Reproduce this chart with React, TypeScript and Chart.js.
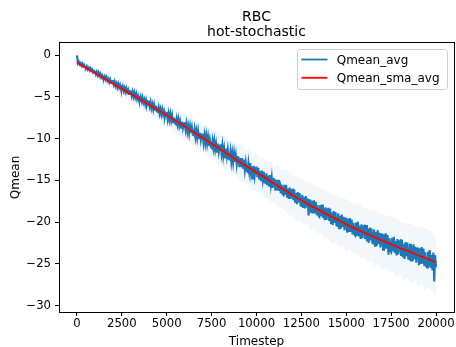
import React, { useEffect, useRef } from "react";
import { Chart, registerables } from "chart.js";

Chart.register(...registerables);

const TITLE = "RBC";
const SUBTITLE = "hot-stochastic";
const X_LABEL = "Timestep";
const Y_LABEL = "Qmean";

const xTicks = [0, 2500, 5000, 7500, 10000, 12500, 15000, 17500, 20000];
const yTicks = [0, -5, -10, -15, -20, -25, -30];

// Qmean_avg logged every 50 timesteps
const MEAN_INTERVAL = 50;
const qmeanAvg = [
  -0.05, -0.97, -0.78, -1.12, -0.96, -1.26, -1.04, -1.33, -1.17, -1.48,
  -1.55, -1.35, -1.7, -1.51, -1.81, -1.59, -1.89, -1.74, -2.06, -1.88,
  -1.91, -2.31, -2.02, -2.4, -2.1, -2.5, -2.25, -2.67, -2.43, -2.77,
  -2.86, -2.58, -2.94, -2.66, -3.09, -2.87, -3.25, -2.93, -3.34, -3.1,
  -3.1, -3.54, -3.18, -3.71, -3.4, -3.86, -3.45, -3.89, -3.58, -4.06,
  -4.13, -3.76, -4.3, -3.94, -4.4, -3.99, -4.45, -4.16, -4.65, -4.31,
  -4.34, -4.91, -4.44, -4.98, -4.5, -5.07, -4.66, -5.26, -4.87, -5.35,
  -5.45, -5.0, -5.52, -5.08, -5.69, -5.33, -5.88, -5.38, -5.96, -5.57,
  -5.57, -6.16, -5.63, -6.37, -5.91, -6.54, -5.94, -6.53, -6.07, -6.73,
  -6.8, -6.27, -7.01, -6.48, -7.11, -6.51, -7.14, -6.72, -7.38, -6.89,
  -6.91, -7.69, -7.0, -7.74, -7.05, -7.83, -7.23, -8.05, -7.49, -8.14,
  -8.25, -7.61, -8.3, -7.66, -8.48, -7.96, -8.7, -7.97, -8.75, -8.19,
  -8.17, -8.95, -8.21, -9.18, -8.53, -9.37, -8.52, -9.31, -8.66, -9.54,
  -9.61, -8.86, -9.84, -9.09, -9.93, -9.08, -9.92, -9.31, -10.2, -9.5,
  -9.52, -10.51, -9.61, -10.54, -9.64, -10.63, -9.83, -10.88, -10.14, -10.96,
  -11.09, -10.24, -11.12, -10.27, -11.31, -10.63, -11.56, -10.6, -11.59, -10.85,
  -10.82, -11.79, -10.84, -12.05, -11.22, -12.25, -11.18, -12.15, -11.32, -12.41,
  -12.48, -11.53, -12.74, -11.79, -12.82, -11.75, -12.78, -12.01, -13.1, -12.21,
  -12.25, -13.42, -12.32, -13.42, -12.32, -13.49, -12.52, -13.76, -12.85, -13.83,
  -13.96, -12.92, -13.97, -12.93, -14.17, -13.32, -14.9, -13.26, -14.44, -13.53,
  -13.49, -14.61, -13.49, -14.88, -13.9, -15.09, -13.83, -14.94, -13.96, -15.22,
  -15.29, -14.16, -15.56, -14.44, -15.63, -14.36, -15.55, -14.64, -15.9, -14.84,
  -14.88, -16.22, -14.94, -16.2, -14.92, -16.26, -15.13, -16.55, -15.49, -16.61,
  -16.75, -15.54, -16.74, -15.53, -16.95, -15.96, -17.23, -15.87, -17.22, -16.16,
  -16.11, -17.37, -16.08, -17.66, -16.52, -17.86, -16.41, -17.67, -16.53, -17.95,
  -18.02, -16.72, -18.3, -17.0, -18.35, -16.89, -18.23, -17.17, -19.2, -17.38,
  -17.41, -18.91, -17.44, -18.85, -17.38, -18.88, -17.58, -19.17, -17.95, -19.2,
  -19.34, -17.95, -19.29, -17.9, -19.49, -18.35, -19.77, -18.21, -19.72, -18.5,
  -18.43, -19.84, -18.36, -20.13, -18.83, -20.33, -18.67, -20.08, -18.78, -20.37,
  -20.42, -18.95, -20.71, -19.24, -20.73, -19.08, -20.57, -19.37, -20.95, -19.57,
  -19.59, -21.25, -19.59, -21.16, -19.5, -21.17, -19.7, -21.46, -20.08, -21.46,
  -21.61, -20.04, -21.52, -19.95, -21.71, -20.43, -22.0, -20.25, -21.91, -20.54,
  -20.45, -22.0, -20.35, -22.29, -20.84, -22.49, -20.64, -22.18, -20.73, -22.48,
  -22.53, -20.87, -22.82, -21.17, -22.82, -20.96, -22.61, -21.26, -23.01, -21.45,
  -21.47, -23.3, -21.45, -23.18, -21.33, -23.16, -21.53, -23.9, -21.93, -23.45,
  -23.6, -21.86, -23.48, -21.74, -23.67, -22.25, -23.97, -22.02, -23.85, -22.32,
  -22.22, -23.91, -22.09, -24.22, -22.61, -24.41, -22.37, -24.06, -22.45, -24.36,
  -24.41, -22.58, -24.71, -22.88, -24.69, -22.64, -24.44, -22.94, -24.86, -23.14,
  -23.15, -25.14, -23.12, -25.0, -22.97, -24.97, -23.17, -25.28, -23.6, -25.25,
  -25.41, -23.5, -25.27, -23.35, -25.47, -23.9, -25.78, -23.64, -27.1, -23.95,
  -25.4,
];

// spread (std) of Qmean logged every 200 timesteps
const STD_INTERVAL = 200;
const qmeanStd = [
  0.1, 0.35, 0.4, 0.45, 0.4, 0.5, 0.55, 0.5, 0.6, 0.65,
  0.7, 0.6, 0.8, 0.75, 0.9, 0.8, 0.95, 0.85, 1.0, 1.1,
  0.95, 1.2, 1.05, 1.3, 1.15, 1.4, 1.2, 1.5, 1.3, 1.45,
  1.6, 1.35, 1.7, 1.5, 1.8, 1.55, 1.9, 1.6, 1.75, 2.0,
  1.7, 2.05, 1.8, 2.2, 1.85, 2.1, 2.3, 1.9, 2.25, 2.0,
  2.35, 2.05, 2.4, 2.15, 2.5, 2.2, 2.6, 2.3, 2.45, 2.7,
  2.35, 2.75, 2.5, 2.8, 2.45, 2.9, 2.6, 2.85, 2.55, 3.0,
  2.7, 3.05, 2.75, 3.1, 2.85, 3.2, 2.8, 3.1, 2.95, 3.3,
  2.9, 3.25, 3.0, 3.35, 3.05, 3.4, 3.1, 3.3, 3.2, 3.5,
  3.15, 3.45, 3.25, 3.6, 3.3, 3.5, 3.4, 3.7, 3.35, 3.6,
  3.4,
];

// Qmean_sma_avg logged every 500 timesteps
const SMA_INTERVAL = 500;
const qmeanSmaAvg = [
  -0.9, -1.52, -2.16, -2.77, -3.41, -4.02, -4.66, -5.27, -5.91, -6.55,
  -7.21, -7.86, -8.56, -9.21, -9.91, -10.59, -11.31, -11.99, -12.71, -13.36,
  -14.06, -14.71, -15.41, -16.06, -16.76, -17.37, -18.01, -18.56, -19.16, -19.69,
  -20.26, -20.74, -21.26, -21.71, -22.21, -22.64, -23.11, -23.51, -23.96, -24.36,
  -24.8,
];

const X_MIN = -1000;
const X_MAX = 21000;
const Y_MIN = -30.75;
const Y_MAX = 1.44;

const BLUE = "#1f77b4";
const RED = "#ff0000";
const BAND = "rgba(31,119,180,0.06)";
const FONT = "'DejaVu Sans', 'Liberation Sans', sans-serif";

const fmt = (v: number) => (v < 0 ? "\u2212" + Math.abs(v) : String(v));

const decorPlugin = {
  id: "decor",
  afterDatasetsDraw(chart: any) {
    const { ctx, chartArea: a } = chart;
    ctx.save();
    ctx.strokeStyle = "#000";
    ctx.lineWidth = 1;
    const l = Math.round(a.left) + 0.5;
    const t = Math.round(a.top) - 0.5;
    const r = Math.round(a.right) + 0.5;
    const b = Math.round(a.bottom) + 0.5;
    ctx.strokeRect(l, t, r - l, b - t);
    ctx.restore();
  },
  afterDraw(chart: any) {
    const { ctx, chartArea: a } = chart;
    const cx = (a.left + a.right) / 2;
    const cy = (a.top + a.bottom) / 2;
    ctx.save();
    ctx.fillStyle = "#000";
    ctx.textAlign = "center";
    ctx.textBaseline = "alphabetic";
    ctx.font = `14px ${FONT}`;
    ctx.fillText(TITLE, cx, 20.5);
    ctx.fillText(SUBTITLE, cx, 36);
    ctx.font = `12px ${FONT}`;
    ctx.fillText(X_LABEL, cx, 345);
    ctx.save();
    ctx.translate(19, cy);
    ctx.rotate(-Math.PI / 2);
    ctx.fillText(Y_LABEL, 0, 0);
    ctx.restore();

    // legend
    const bx = 297.5, by = 49.5, bw = 150, bh = 40, rad = 3;
    ctx.beginPath();
    ctx.moveTo(bx + rad, by);
    ctx.lineTo(bx + bw - rad, by);
    ctx.quadraticCurveTo(bx + bw, by, bx + bw, by + rad);
    ctx.lineTo(bx + bw, by + bh - rad);
    ctx.quadraticCurveTo(bx + bw, by + bh, bx + bw - rad, by + bh);
    ctx.lineTo(bx + rad, by + bh);
    ctx.quadraticCurveTo(bx, by + bh, bx, by + bh - rad);
    ctx.lineTo(bx, by + rad);
    ctx.quadraticCurveTo(bx, by, bx + rad, by);
    ctx.closePath();
    ctx.fillStyle = "rgba(255,255,255,0.8)";
    ctx.fill();
    ctx.strokeStyle = "#cccccc";
    ctx.lineWidth = 1;
    ctx.stroke();

    const ds = chart.data.datasets;
    const items = [ds[1], ds[0]];
    items.forEach((d: any, i: number) => {
      const y = 59.5 + i * 18.3;
      ctx.beginPath();
      ctx.moveTo(301.5, y);
      ctx.lineTo(327.5, y);
      ctx.strokeStyle = d.borderColor;
      ctx.lineWidth = 1.8;
      ctx.stroke();
      ctx.fillStyle = "#000";
      ctx.textAlign = "left";
      ctx.font = `12px ${FONT}`;
      ctx.fillText(d.label, 336.7, y + 4.6);
    });
    ctx.restore();
  },
};

export default function App() {
  const ref = useRef<HTMLCanvasElement>(null);
  useEffect(() => {
    document.body.style.margin = "0";
    const canvas = ref.current!;
    const meanPts = qmeanAvg.map((y, i) => ({ x: i * MEAN_INTERVAL, y }));
    const ratio = STD_INTERVAL / MEAN_INTERVAL;
    const centerAt = (i: number) => {
      const k = i * ratio;
      const k2 = Math.min(k + 1, qmeanAvg.length - 1);
      return (qmeanAvg[k] + qmeanAvg[k2]) / 2;
    };
    const upper = qmeanStd.map((s, i) => ({ x: i * STD_INTERVAL, y: centerAt(i) + s }));
    const lower = qmeanStd.map((s, i) => ({ x: i * STD_INTERVAL, y: centerAt(i) - s }));
    const smaPts = qmeanSmaAvg.map((y, i) => ({ x: i * SMA_INTERVAL, y }));

    const chart = new Chart(canvas, {
      type: "line",
      data: {
        datasets: [
          { label: "Qmean_sma_avg", data: smaPts, borderColor: RED, backgroundColor: RED, borderWidth: 1.8, pointRadius: 0, tension: 0, fill: false },
          { label: "Qmean_avg", data: meanPts, borderColor: BLUE, backgroundColor: BLUE, borderWidth: 2.1, pointRadius: 0, tension: 0, fill: false },
          { label: "upper", data: upper, borderColor: "rgba(0,0,0,0)", borderWidth: 0, pointRadius: 0, fill: false },
          { label: "lower", data: lower, borderColor: "rgba(0,0,0,0)", borderWidth: 0, pointRadius: 0, fill: "-1", backgroundColor: BAND },
        ],
      },
      options: {
        responsive: false,
        animation: false,
        devicePixelRatio: 1,
        events: [],
        layout: { padding: { top: 43, right: 2, left: 0, bottom: 0 } },
        plugins: { legend: { display: false }, tooltip: { enabled: false }, title: { display: false } },
        scales: {
          x: {
            type: "linear",
            min: X_MIN,
            max: X_MAX,
            afterBuildTicks: (s: any) => { s.ticks = xTicks.map((v) => ({ value: v })); },
            afterFit: (s: any) => { s.height = 35; },
            grid: { drawOnChartArea: false, drawTicks: true, tickLength: 4, color: "#000", lineWidth: 1 },
            border: { display: false },
            ticks: { color: "#000", font: { family: FONT, size: 11.7 }, maxRotation: 0, autoSkip: false, padding: 1, callback: (v: any) => fmt(Number(v)) },
          },
          y: {
            type: "linear",
            min: Y_MIN,
            max: Y_MAX,
            afterBuildTicks: (s: any) => { s.ticks = yTicks.map((v) => ({ value: v })); },
            afterFit: (s: any) => { s.width = 59; },
            grid: { drawOnChartArea: false, drawTicks: true, tickLength: 4, color: "#000", lineWidth: 1 },
            border: { display: false },
            ticks: { color: "#000", font: { family: FONT, size: 11.7 }, padding: 4, callback: (v: any) => fmt(Number(v)) },
          },
        },
      },
      plugins: [decorPlugin],
    });
    return () => chart.destroy();
  }, []);
  return (
    <div style={{ width: 456, height: 347 }}>
      <canvas ref={ref} width={456} height={347} style={{ display: "block" }} />
    </div>
  );
}
